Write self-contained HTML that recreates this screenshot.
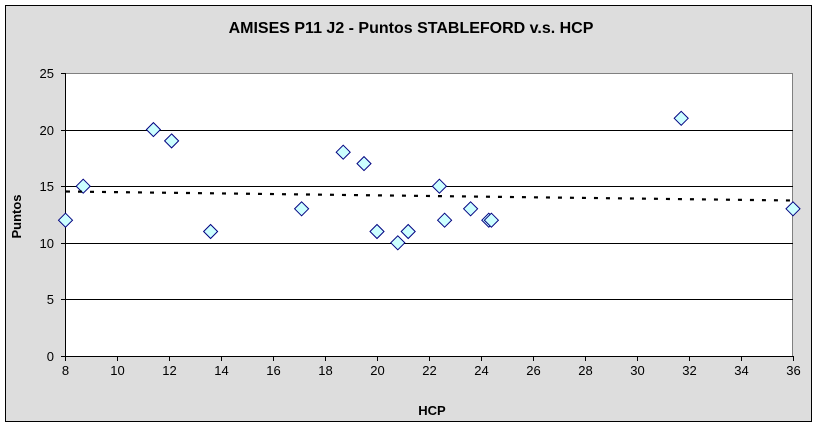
<!DOCTYPE html>
<html>
<head>
<meta charset="utf-8">
<style>
  html, body { margin:0; padding:0; background:#ffffff; }
  svg { display:block; }
  text { font-family: "Liberation Sans", Arial, sans-serif; fill:#000; }
</style>
</head>
<body>
<svg width="817" height="426" viewBox="0 0 817 426" xmlns="http://www.w3.org/2000/svg">
  <!-- chart area -->
  <rect x="5.5" y="5.5" width="806" height="416" fill="#DDDDDD" stroke="#000" stroke-width="1" shape-rendering="crispEdges"/>
  <!-- title -->
  <text x="411" y="33" font-size="16" font-weight="bold" text-anchor="middle">AMISES P11 J2 - Puntos STABLEFORD v.s. HCP</text>

  <!-- plot area -->
  <rect x="65.5" y="73.5" width="727" height="283" fill="#ffffff" stroke="#808080" stroke-width="1" shape-rendering="crispEdges"/>

  <g stroke="#000" stroke-width="1" shape-rendering="crispEdges">
    <!-- gridlines -->
    <line x1="65" y1="130.5" x2="793" y2="130.5"/>
    <line x1="65" y1="186.5" x2="793" y2="186.5"/>
    <line x1="65" y1="243.5" x2="793" y2="243.5"/>
    <line x1="65" y1="299.5" x2="793" y2="299.5"/>
    <!-- axes -->
    <line x1="65.5" y1="73" x2="65.5" y2="357"/>
    <line x1="65" y1="356.5" x2="794" y2="356.5"/>
    <!-- y ticks -->
    <line x1="61" y1="73.5" x2="65" y2="73.5"/>
    <line x1="61" y1="130.5" x2="65" y2="130.5"/>
    <line x1="61" y1="186.5" x2="65" y2="186.5"/>
    <line x1="61" y1="243.5" x2="65" y2="243.5"/>
    <line x1="61" y1="299.5" x2="65" y2="299.5"/>
    <line x1="61" y1="356.5" x2="65" y2="356.5"/>
    <!-- x ticks -->
    <line x1="65.5" y1="356" x2="65.5" y2="361"/>
    <line x1="117.5" y1="356" x2="117.5" y2="361"/>
    <line x1="169.5" y1="356" x2="169.5" y2="361"/>
    <line x1="221.5" y1="356" x2="221.5" y2="361"/>
    <line x1="273.5" y1="356" x2="273.5" y2="361"/>
    <line x1="325.5" y1="356" x2="325.5" y2="361"/>
    <line x1="377.5" y1="356" x2="377.5" y2="361"/>
    <line x1="429.5" y1="356" x2="429.5" y2="361"/>
    <line x1="481.5" y1="356" x2="481.5" y2="361"/>
    <line x1="533.5" y1="356" x2="533.5" y2="361"/>
    <line x1="585.5" y1="356" x2="585.5" y2="361"/>
    <line x1="637.5" y1="356" x2="637.5" y2="361"/>
    <line x1="689.5" y1="356" x2="689.5" y2="361"/>
    <line x1="741.5" y1="356" x2="741.5" y2="361"/>
    <line x1="793.5" y1="356" x2="793.5" y2="361"/>
  </g>

  <!-- y labels -->
  <g font-size="13" text-anchor="end">
    <text x="54" y="78">25</text>
    <text x="54" y="135">20</text>
    <text x="54" y="191">15</text>
    <text x="54" y="248">10</text>
    <text x="54" y="304">5</text>
    <text x="54" y="361">0</text>
  </g>
  <!-- x labels -->
  <g font-size="13" text-anchor="middle">
    <text x="65.5" y="375">8</text>
    <text x="117.5" y="375">10</text>
    <text x="169.5" y="375">12</text>
    <text x="221.5" y="375">14</text>
    <text x="273.5" y="375">16</text>
    <text x="325.5" y="375">18</text>
    <text x="377.5" y="375">20</text>
    <text x="429.5" y="375">22</text>
    <text x="481.5" y="375">24</text>
    <text x="533.5" y="375">26</text>
    <text x="585.5" y="375">28</text>
    <text x="637.5" y="375">30</text>
    <text x="689.5" y="375">32</text>
    <text x="741.5" y="375">34</text>
    <text x="793.5" y="375">36</text>
  </g>

  <!-- axis titles -->
  <text x="432" y="415" font-size="13" font-weight="bold" text-anchor="middle">HCP</text>
  <text transform="translate(21,216.5) rotate(-90)" font-size="13" font-weight="bold" text-anchor="middle">Puntos</text>

  <!-- data points -->
  <g fill="#CCFFFF" stroke="#000080" stroke-width="1">
    <polygon points="65.5,213.2 72.5,220.2 65.5,227.2 58.5,220.2"/>
    <polygon points="83.2,179.2 90.2,186.2 83.2,193.2 76.2,186.2"/>
    <polygon points="153.4,122.6 160.4,129.6 153.4,136.6 146.4,129.6"/>
    <polygon points="171.6,133.9 178.6,140.9 171.6,147.9 164.6,140.9"/>
    <polygon points="210.6,224.5 217.6,231.5 210.6,238.5 203.6,231.5"/>
    <polygon points="301.6,201.8 308.6,208.8 301.6,215.8 294.6,208.8"/>
    <polygon points="343.2,145.2 350.2,152.2 343.2,159.2 336.2,152.2"/>
    <polygon points="364,156.6 371,163.6 364,170.6 357,163.6"/>
    <polygon points="377,224.5 384,231.5 377,238.5 370,231.5"/>
    <polygon points="397.8,235.8 404.8,242.8 397.8,249.8 390.8,242.8"/>
    <polygon points="408.2,224.5 415.2,231.5 408.2,238.5 401.2,231.5"/>
    <polygon points="439.4,179.2 446.4,186.2 439.4,193.2 432.4,186.2"/>
    <polygon points="444.6,213.2 451.6,220.2 444.6,227.2 437.6,220.2"/>
    <polygon points="470.6,201.8 477.6,208.8 470.6,215.8 463.6,208.8"/>
    <polygon points="488.8,213.2 495.8,220.2 488.8,227.2 481.8,220.2"/>
    <polygon points="491.4,213.2 498.4,220.2 491.4,227.2 484.4,220.2"/>
    <polygon points="681.2,111.3 688.2,118.3 681.2,125.3 674.2,118.3"/>
    <polygon points="793,201.8 800,208.8 793,215.8 786,208.8"/>
  </g>

  <!-- trendline -->
  <line x1="66" y1="191.5" x2="793" y2="200.5" stroke="#000" stroke-width="2.2" stroke-dasharray="4 8"/>
</svg>
</body>
</html>
